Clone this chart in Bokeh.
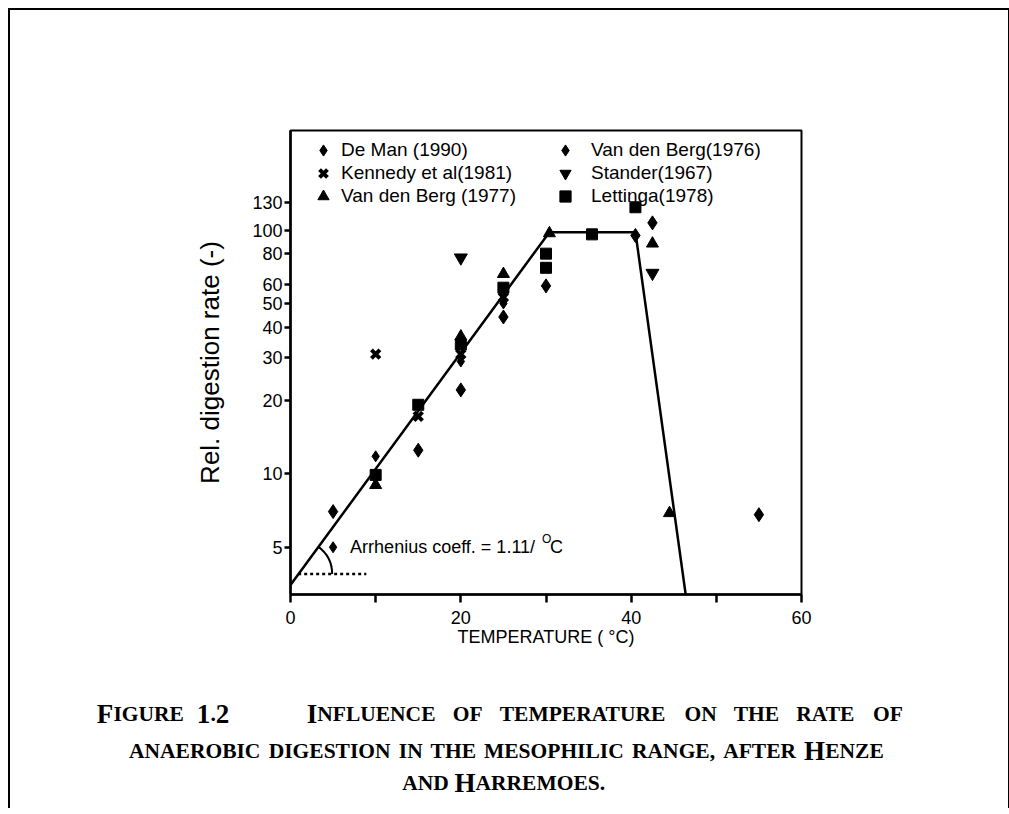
from bokeh.plotting import figure
from bokeh.layouts import column
from bokeh.models import (Legend, LegendItem, Label, FixedTicker, Range1d,
                          NumeralTickFormatter, ColumnDataSource)
from bokeh.embed import file_html
from bokeh.resources import INLINE
import math

# ---------------- data ----------------
deman_t = [5, 10, 20, 25]
deman_r = [5.0, 11.8, 28.9, 50]
vdb76_t = [5, 15, 20, 25, 30, 40.5, 42.5, 55]
vdb76_r = [7.0, 12.5, 22.1, 44, 59, 95, 107, 6.8]
kennedy_t = [10, 15, 20, 25]
kennedy_r = [31, 17.2, 31, 53]
vdb77_t = [10, 20, 25, 30.4, 42.5, 44.5]
vdb77_r = [9.0, 36.6, 66, 97, 88, 6.9]
stander_t = [20, 42.5]
stander_r = [77, 66.6]
lettinga_t = [10, 15, 20, 25, 30, 30, 35.4, 40.5]
lettinga_r = [9.9, 19.2, 33.9, 58, 80, 70, 96, 124]
model_t = [0, 30.4, 40.5, 46.4]
model_r = [3.5, 98, 98, 3.2]
ref_t = [0.9, 8.9]          # dotted reference line of the Arrhenius angle
ref_r = [3.88, 3.88]
x_ticks = [0, 20, 40, 60]
x_minor = [10, 30, 50]
y_ticks = [5, 10, 20, 30, 40, 50, 60, 80, 100, 130]

FONT = "Liberation Sans"
SERIF = "Liberation Serif"
BORDER = "2px solid black"

ML, MT = 8, 8          # page offset of the bordered box
FW, FH = 507, 462      # chart frame size
BL, BR, BT, BB = 280, 211, 120, 70
WTOT = BL + FW + BR    # 998
HC = BT + FH + BB      # 652
HT = 146               # caption height

p = figure(frame_width=FW, frame_height=FH, x_range=Range1d(0, 60), y_range=Range1d(3.2, 256),
           y_axis_type="log", output_backend="svg", toolbar_location=None,
           min_border_left=BL, min_border_right=BR, min_border_top=BT, min_border_bottom=BB)
p.styles = {"border-top": BORDER, "border-left": BORDER, "border-right": BORDER,
            "margin-left": f"{ML}px", "margin-top": f"{MT}px"}
p.xgrid.visible = False
p.ygrid.visible = False
p.outline_line_color = "black"
p.outline_line_width = 2
p.background_fill_color = "white"
p.border_fill_color = "white"

for ax in (p.xaxis[0], p.yaxis[0]):
    ax.axis_line_width = 2.5
    ax.major_tick_line_width = 2.5
    ax.minor_tick_line_width = 2.5
    ax.major_tick_in = 0
    ax.minor_tick_in = 0
    ax.major_label_text_font = FONT
    ax.major_label_text_font_size = "18px"
    ax.major_label_text_color = "black"
    ax.axis_label_text_font = FONT
    ax.axis_label_text_font_style = "normal"
    ax.axis_label_text_color = "black"

p.xaxis.ticker = FixedTicker(ticks=x_ticks, minor_ticks=x_minor)
p.xaxis.major_tick_out = 8
p.xaxis.minor_tick_out = 8
p.xaxis.major_label_standoff = 8
p.xaxis.axis_label = "TEMPERATURE ( °C)"
p.xaxis.axis_label_text_font_size = "18px"
p.xaxis.axis_label_standoff = 0

p.yaxis.ticker = FixedTicker(ticks=y_ticks, minor_ticks=[])
p.yaxis.formatter = NumeralTickFormatter(format="0")
p.yaxis.major_tick_out = 6
p.yaxis.major_label_standoff = 2
p.yaxis.axis_label = "Rel. digestion rate (-)"
p.yaxis.axis_label_text_font_size = "26px"
p.yaxis.axis_label_standoff = 24

# model line and Arrhenius angle
p.line(model_t, model_r, line_color="black", line_width=2.5)
p.line(ref_t, ref_r, line_color="black", line_width=2.5, line_dash="3 3")
p.arc(x=[ref_t[0]], y=[ref_r[0]], radius=34, radius_units="screen",
      start_angle=0, end_angle=math.radians(54), line_color="black", line_width=2)

# data points
r_dm = p.scatter(deman_t, deman_r, marker="diamond", size=11, color="black")
r_ke = p.scatter(kennedy_t, kennedy_r, marker="x", size=12, line_width=4, color="black")
r_77 = p.scatter(vdb77_t, vdb77_r, marker="triangle", size=12, color="black")
r_76 = p.scatter(vdb76_t, vdb76_r, marker="diamond", size=14, color="black")
r_st = p.scatter(stander_t, stander_r, marker="inverted_triangle", size=13, color="black")
r_le = p.scatter(lettinga_t, lettinga_r, marker="square", size=11, color="black")

# legend: one entry per box so that rows can be tight while markers stay large
ROW_H = 28
def legend_entry(label, renderer, vx, row, standoff):
    center_page_y = 148 + row * 23
    vy = 592 - (center_page_y + ROW_H / 2)
    lg = Legend(items=[LegendItem(label=label, renderers=[renderer])], location=(vx, vy),
                label_text_font=FONT, label_text_font_size="19px", label_text_color="black",
                glyph_width=ROW_H, glyph_height=ROW_H, label_height=ROW_H,
                label_standoff=standoff, spacing=0, padding=0, margin=0,
                background_fill_alpha=0, border_line_alpha=0)
    p.add_layout(lg)

legend_entry("De Man (1990)", r_dm, 19, 0, 4)
legend_entry("Kennedy et al(1981)", r_ke, 19, 1, 4)
legend_entry("Van den Berg (1977)", r_77, 19, 2, 4)
legend_entry("Van den Berg(1976)", r_76, 261, 0, 12)
legend_entry("Stander(1967)", r_st, 261, 1, 12)
legend_entry("Lettinga(1978)", r_le, 261, 2, 12)

# Arrhenius annotation
AX = 7.0
p.add_layout(Label(x=AX, y=5.0, text="Arrhenius coeff. = 1.11/ ", text_font=FONT,
                   text_font_size="18px", text_baseline="middle", text_color="black"))
p.add_layout(Label(x=AX, y=5.0, x_offset=192, y_offset=8, text="O", text_font=FONT,
                   text_font_size="12px", text_baseline="middle", text_color="black"))
p.add_layout(Label(x=AX, y=5.0, x_offset=200, text="C", text_font=FONT,
                   text_font_size="18px", text_baseline="middle", text_color="black"))

# ---------------- caption figure (bold small caps built from runs) ----------------
CAP_TOP = MT + HC                       # page y of caption canvas top
cap = figure(frame_width=WTOT, frame_height=HT,
             x_range=Range1d(ML + 2, ML + 2 + WTOT), y_range=Range1d(CAP_TOP + HT, CAP_TOP),
             output_backend="svg", toolbar_location=None,
             x_axis_location=None, y_axis_location=None, min_border=0)
cap.styles = {"border-left": BORDER, "border-right": BORDER, "margin-left": f"{ML}px"}
cap.xgrid.visible = False
cap.ygrid.visible = False
cap.outline_line_color = None
cap.background_fill_color = "white"
cap.border_fill_color = "white"

for f in (p, cap):
    if "frame_align" in f.properties():
        f.frame_align = False

TB = {'A': 722, 'B': 667, 'C': 722, 'D': 722, 'E': 667, 'F': 611, 'G': 778, 'H': 778, 'I': 389,
      'J': 500, 'K': 778, 'L': 667, 'M': 944, 'N': 722, 'O': 778, 'P': 611, 'Q': 778, 'R': 722,
      'S': 556, 'T': 667, 'U': 722, 'V': 722, 'W': 1000, 'X': 722, 'Y': 722, 'Z': 667,
      ' ': 250, ',': 250, '.': 250, '1': 500, '2': 500}
BIG, SMALL = 27, 21.5

def runs(word):
    out = []
    for ch in word:
        big = ch.isupper() or ch.isdigit()
        size = BIG if big else SMALL
        c = ch.upper()
        if out and out[-1][1] == size:
            out[-1][0] += c
        else:
            out.append([c, size])
    return out

def width(rs):
    return sum(TB[c] * s / 1000 for t, s in rs for c in t)

cx, cy, ct, cs = [], [], [], []

def place_line(words, x0, x1, base_y, mode):
    wr = [runs(w) for w in words]
    ww = [width(r) for r in wr]
    sp = TB[' '] * SMALL / 1000
    natural = sum(ww) + sp * (len(words) - 1)
    if mode == "justify" and len(words) > 1:
        gap = (x1 - x0 - sum(ww)) / (len(words) - 1)
        x = x0
    elif mode == "center":
        gap = sp
        x = (x0 + x1) / 2 - natural / 2
    else:
        gap = sp
        x = x0
    for rs in wr:
        for t, s in rs:
            cx.append(x)
            cy.append(base_y)
            ct.append(t)
            cs.append(f"{s}px")
            x += width([[t, s]])
        x += gap

place_line(["Figure", "1.2"], 96, 228, 711, "justify")
place_line("Influence of temperature on the rate of".split(), 305, 899, 711, "justify")
place_line("anaerobic digestion in the mesophilic range, after Henze".split(), 128, 880, 748, "justify")
place_line("and Harremoes.".split(), 421, 582, 780, "center")

src = ColumnDataSource(dict(x=cx, y=cy, text=ct, size=cs))
cap.text(x="x", y="y", text="text", source=src, text_font_size={"field": "size"},
         text_font={"value": SERIF}, text_font_style="bold", text_baseline="alphabetic",
         text_align="left", text_color="black")

layout = column(p, cap, spacing=0)
open("out.html", "w").write(file_html(layout, INLINE))
